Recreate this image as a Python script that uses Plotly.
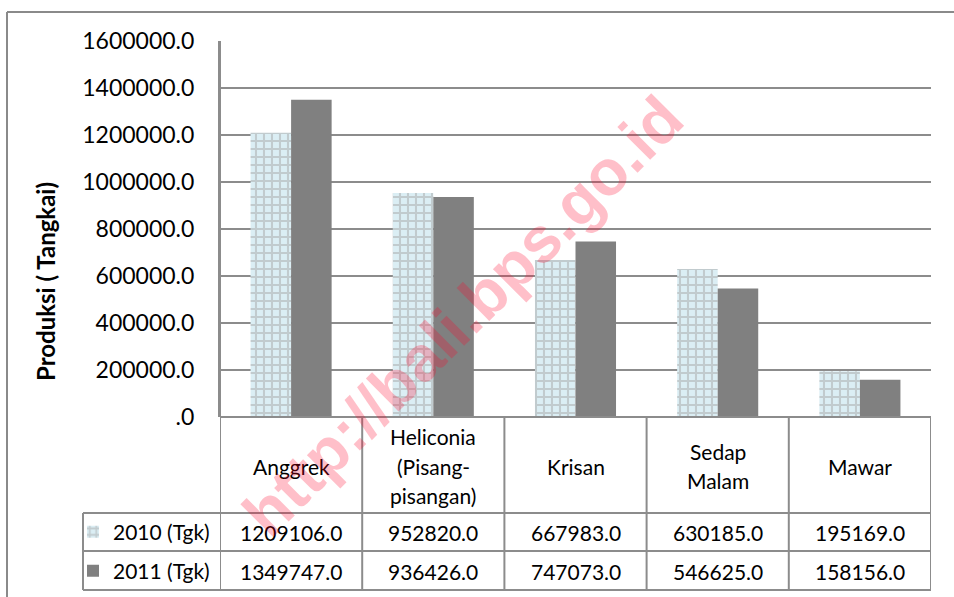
import plotly.graph_objects as go

categories = ["Anggrek", "Heliconia (Pisang-pisangan)", "Krisan", "Sedap Malam", "Mawar"]
category_labels = ["Anggrek", "Heliconia<br>(Pisang-<br>pisangan)", "Krisan", "Sedap<br>Malam", "Mawar"]
series_names = ["2010 (Tgk)", "2011 (Tgk)"]
values_2010 = [1209106.0, 952820.0, 667983.0, 630185.0, 195169.0]
values_2011 = [1349747.0, 936426.0, 747073.0, 546625.0, 158156.0]
tick_values = [0, 200000, 400000, 600000, 800000, 1000000, 1200000, 1400000, 1600000]
tick_labels = [".0", "200000.0", "400000.0", "600000.0", "800000.0", "1000000.0",
               "1200000.0", "1400000.0", "1600000.0"]
y_title = "Produksi ( Tangkai)"
watermark = "http://bali.bps.go.id"

W, H = 954, 597
PL, PR, PT, PB = 220, 931, 41, 417  # plot area in page pixels
L, R, T, B = PL, W - PR, PT, H - PB
plot_h = PB - PT
plot_w = PR - PL

def py(pix):  # page pixel y -> paper y
    return (PB - pix) / plot_h

def px(pix):  # page pixel x -> paper x
    return (pix - PL) / plot_w

FONT = "Lato"
GRID = "#8c8c8c"
xs = list(range(len(categories)))

fig = go.Figure()
fig.add_trace(go.Bar(
    x=xs, y=values_2010, name=series_names[0], legend="legend", showlegend=True,
    marker=dict(color="#DBEEF4", line=dict(width=0),
                pattern=dict(shape="+", fgcolor="#A8A8A8", bgcolor="#DBEEF4",
                             size=8, solidity=0.45, fillmode="overlay")),
))
fig.add_trace(go.Bar(
    x=xs, y=values_2011, name=series_names[1], legend="legend2", showlegend=True,
    marker=dict(color="#808080", line=dict(width=0)),
))

shapes = []
line = dict(color=GRID, width=2)
y_hdr, y_r1, y_r2 = py(513), py(551), py(590)
x_leg = px(83)
shapes.append(dict(type="line", xref="paper", yref="paper", x0=0, x1=1, y0=0, y1=0, line=line))
for yy in (y_hdr, y_r1, y_r2):
    shapes.append(dict(type="line", xref="paper", yref="paper", x0=x_leg, x1=1, y0=yy, y1=yy, line=line))
for i in range(len(categories) + 1):
    b = i - 0.5
    shapes.append(dict(type="line", xref="x", yref="paper", x0=b, x1=b,
                       y0=(1 if i == 0 else 0), y1=y_r2, line=line))
shapes.append(dict(type="line", xref="paper", yref="paper", x0=x_leg, x1=x_leg, y0=y_hdr, y1=y_r2, line=line))
# outer chart border
shapes.append(dict(type="line", xref="paper", yref="paper", x0=px(7), x1=px(7), y0=py(12), y1=py(620),
                   line=dict(color="#8a8a8a", width=2)))
shapes.append(dict(type="line", xref="paper", yref="paper", x0=px(7), x1=px(980), y0=py(12), y1=py(12),
                   line=dict(color="#8a8a8a", width=2)))

cell_font = dict(family=FONT, size=21, color="#000")
LINE_H = 29.5
annotations = []
for i, lab in enumerate(category_labels):
    parts = lab.split("<br>")
    n = len(parts)
    for k, part in enumerate(parts):
        yc = 466 + (k - (n - 1) / 2) * LINE_H
        annotations.append(dict(x=i, xref="x", y=py(yc), yref="paper", text=part, showarrow=False,
                                xanchor="center", yanchor="middle", font=cell_font))
    annotations.append(dict(x=i, xref="x", y=py(532), yref="paper", text=f"{values_2010[i]:.1f}",
                            xanchor="center", yanchor="middle", showarrow=False, font=cell_font))
    annotations.append(dict(x=i, xref="x", y=py(571), yref="paper", text=f"{values_2011[i]:.1f}",
                            xanchor="center", yanchor="middle", showarrow=False, font=cell_font))
annotations.append(dict(x=px(45), xref="paper", y=py(282), yref="paper", text=f"<b>{y_title}</b>",
                        xanchor="center", yanchor="middle",
                        textangle=-90, showarrow=False, font=dict(family=FONT, size=24, color="#000")))
annotations.append(dict(x=px(463), xref="paper", y=py(316), yref="paper", text=f"<b>{watermark}</b>",
                        xanchor="center", yanchor="middle",
                        textangle=-45, showarrow=False,
                        font=dict(family="Liberation Sans", size=64, color="rgba(255,0,40,0.25)")))

leg_common = dict(xanchor="left", yanchor="middle", bgcolor="rgba(0,0,0,0)", borderwidth=0,
                  font=dict(family=FONT, size=21, color="#000"), itemwidth=30)

fig.update_layout(
    width=W, height=H,
    margin=dict(l=L, r=R, t=T, b=B, autoexpand=False),
    paper_bgcolor="white", plot_bgcolor="white",
    barmode="group", bargap=0.43, bargroupgap=0,
    showlegend=True,
    xaxis=dict(range=[-0.5, 4.5], showticklabels=False, showgrid=False, zeroline=False,
               showline=False, fixedrange=True),
    yaxis=dict(range=[0, 1600000], tickvals=tick_values, ticktext=tick_labels,
               showgrid=True, gridcolor=GRID, gridwidth=2, zeroline=False,
               showline=True, linecolor=GRID, linewidth=2, ticks="",
               ticklabelstandoff=19,
               tickfont=dict(family=FONT, size=23, color="#000")),
    legend=dict(x=px(73), y=py(532), **leg_common),
    legend2=dict(x=px(73), y=py(571), **leg_common),
    shapes=shapes, annotations=annotations,
)

fig.write_html(
    "out.html", config={"displayModeBar": False},
    post_script=("document.body.style.margin='0';document.body.style.overflow='hidden';"
                 "document.documentElement.style.overflow='hidden';"),
)
